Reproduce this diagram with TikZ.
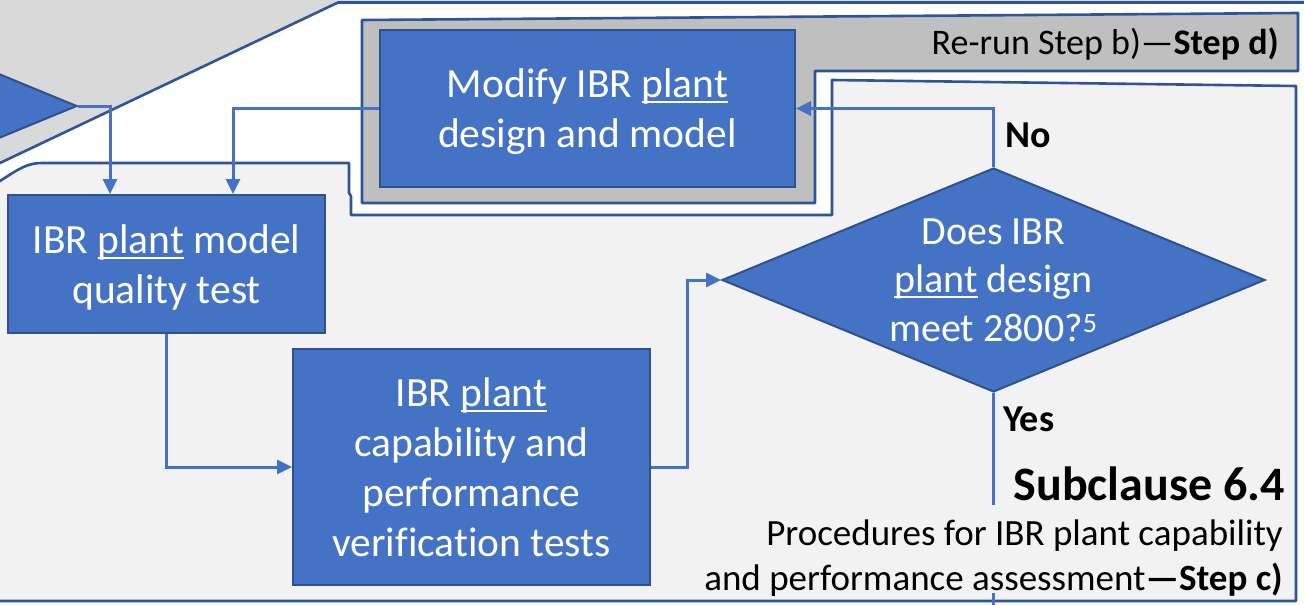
\documentclass[tikz,border=0pt]{standalone}
\usepackage{fontspec}
\setmainfont{Carlito}[Ligatures=NoCommon]
\usetikzlibrary{arrows.meta,shapes.geometric}
\definecolor{boxblue}{HTML}{4472C4}
\definecolor{boxedge}{HTML}{2F528F}
\definecolor{panelline}{HTML}{2F5597}
\definecolor{bandgray}{HTML}{D9D9D9}
\definecolor{rerungray}{HTML}{BFBFBF}
\definecolor{panelgray}{HTML}{F2F2F2}
% underline sitting just below the baseline
\newcommand{\ulword}[1]{\leavevmode\setbox0\hbox{#1}\rlap{\rule[-0.13em]{\wd0}{0.055em}}\box0\relax}
\begin{document}
\begin{tikzpicture}[x=1pt,y=-1pt,
  procbox/.style={draw=boxedge, line width=2pt, fill=boxblue, text=white, align=center,
    inner sep=0pt, text depth=0pt, font=\fontsize{41.5}{50}\selectfont},
  decision/.style={diamond, draw=boxedge, line width=2pt, fill=boxblue, inner sep=0pt,
    minimum width=543pt, minimum height=224pt},
  conn/.style={draw=boxblue, line width=3pt, -{Triangle[length=15pt,width=14pt]}},
  plainconn/.style={draw=boxblue, line width=3pt},
  panel/.style={draw=panelline, line width=2.6pt, line join=round},
]
\useasboundingbox (0,0) rectangle (1304,605);
\clip (0,0) rectangle (1304,605);

% background bands and panels
\fill[bandgray] (0,0) rectangle (1304,605);
\filldraw[panel, fill=white] (-10,167.8) -- (0,163) -- (338,2.5) -- (1320,2.5) -- (1320,620) -- (-10,620) -- cycle;
\node[decision] (prev) at (-194.5,106) {};
\filldraw[panel, fill=panelgray] (-10,187) -- (0,181) .. controls (20,168) and (28,163) .. (42,163)
  -- (349,163) -- (349,193) -- (351,196) -- (351,215) -- (832,215) -- (832,80)
  -- (1296,86) -- (1296,601) -- (-10,601) -- cycle;
\filldraw[panel, fill=rerungray] (362,20) -- (1298,13) -- (1298,71) -- (815,71) -- (815,203) -- (362,203) -- cycle;
\node[anchor=base east, inner sep=0pt, font=\fontsize{36}{42}\selectfont] (rerun) at (1279,54)
  {Re-run Step b)—\textbf{Step d)}};

% process steps
\node[procbox, minimum width=415pt, minimum height=157pt] (modify) at (587.5,108.5)
  {Modify IBR \ulword{plant}\\design and model};
\node[procbox, minimum width=317pt, minimum height=138pt] (quality) at (166.5,264)
  {IBR \ulword{plant} model\\quality test};
\node[procbox, minimum width=357pt, minimum height=236pt] (verify) at (471.5,467)
  {IBR \ulword{plant}\\capability and\\performance\\verification tests};
\node[decision] (meet) at (993.5,280) {};
\node[text=white, align=center, text depth=0pt, inner sep=0pt, font=\fontsize{40}{48.5}\selectfont]
  (meettext) at (meet.center) {Does IBR\\\ulword{plant} design\\meet 2800?\textsuperscript{5}};

% connectors
\draw[conn] (prev.east) -| ([xshift=-56.5pt]quality.north);
\draw[conn] (modify.west) -| ([xshift=66.5pt]quality.north);
\draw[conn] (quality.south) |- (verify.west);
\draw[conn] (verify.east) -- ++(36,0) |- (meet.west);
\draw[conn] (meet.north) |- (modify.east);
\coordinate (yesend) at (993.5,608);
\draw[plainconn] (meet.south) -- (yesend);

% labels
\node[anchor=base west, inner sep=0pt, font=\bfseries\fontsize{38}{44}\selectfont] (no) at (1005,147) {No};
\node[anchor=base west, inner sep=0pt, font=\bfseries\fontsize{38}{44}\selectfont] (yes) at (1003,431) {Yes};
\node[anchor=base east, inner sep=0pt, font=\bfseries\fontsize{48}{56}\selectfont] (sub) at (1285,500) {Subclause 6.4};
\node[anchor=base east, fill=panelgray, inner xsep=3pt, inner ysep=0pt, text height=40pt, text depth=12pt,
  font=\fontsize{37}{44}\selectfont] (proc1) at (1286,545) {Procedures for IBR plant capability};
\node[anchor=base east, fill=panelgray, inner xsep=3pt, inner ysep=0pt, text height=33pt, text depth=3pt,
  font=\fontsize{37}{44}\selectfont] (proc2) at (1286,590) {and performance assessment\textbf{—Step c)}};
\end{tikzpicture}
\end{document}
